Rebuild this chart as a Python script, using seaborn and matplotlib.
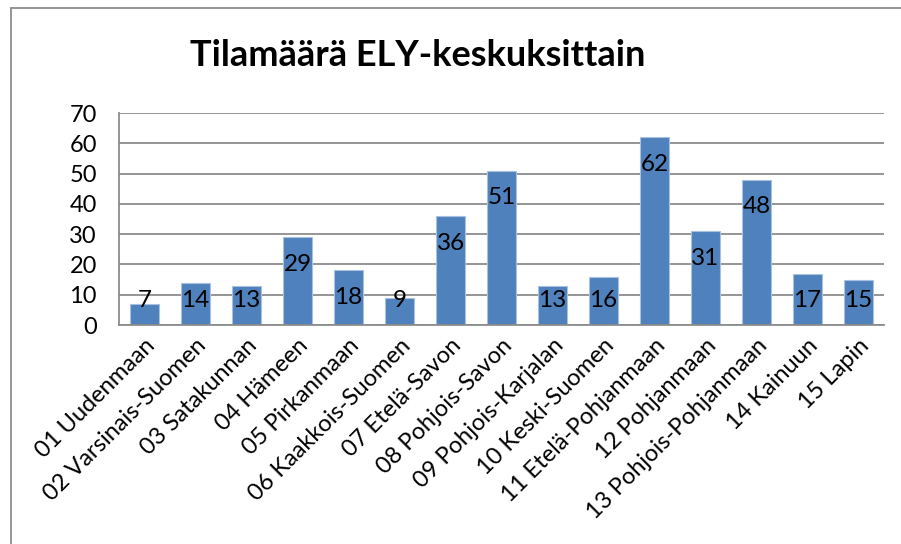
import numpy as np
import pandas as pd
import matplotlib.pyplot as plt
import seaborn as sns
from matplotlib.lines import Line2D

# Datos del gráfico
alueet = ['01 Uudenmaan', '02 Varsinais-Suomen', '03 Satakunnan', '04 Hämeen',
          '05 Pirkanmaan', '06 Kaakkois-Suomen', '07 Etelä-Savon', '08 Pohjois-Savon',
          '09 Pohjois-Karjalan', '10 Keski-Suomen', '11 Etelä-Pohjanmaan',
          '12 Pohjanmaan', '13 Pohjois-Pohjanmaan', '14 Kainuun', '15 Lapin']
tilamaara = [7, 14, 13, 29, 18, 9, 36, 51, 13, 16, 62, 31, 48, 17, 15]
y_ticks = [0, 10, 20, 30, 40, 50, 60, 70]

df = pd.DataFrame({'alue': alueet, 'tilat': tilamaara})

sns.set_theme(style="white")
plt.rcParams['font.family'] = ['Lato', 'DejaVu Sans']

W, H = 901, 544
fig = plt.figure(figsize=(W / 100, H / 100), dpi=100)
ax = fig.add_axes([119 / W, 1 - 325 / H, (884 - 119) / W, (325 - 113) / H])

sns.barplot(data=df, x='alue', y='tilat', color='#4F81BD', saturation=1,
            width=0.57, edgecolor='#a9c1e0', linewidth=0.8, ax=ax)

ax.set_ylim(0, 70)
ax.set_xlim(-0.5, len(alueet) - 0.5)
ax.set_yticks(y_ticks)
ax.yaxis.grid(True, color='#8c8c8c', linewidth=1.3)
ax.set_axisbelow(True)
for s in ['top', 'right']:
    ax.spines[s].set_visible(False)
for s in ['left', 'bottom']:
    ax.spines[s].set_color('#8c8c8c')
    ax.spines[s].set_linewidth(1.3)

ax.set_xlabel('')
ax.set_ylabel('')
ax.tick_params(axis='y', length=0, pad=16, labelsize=17, labelcolor='black')
ax.tick_params(axis='x', length=0, pad=7, labelsize=17, labelcolor='black')
plt.setp(ax.get_xticklabels(), rotation=45, ha='right', rotation_mode='anchor')

# Etiquetas de datos dentro de las barras
for i, v in enumerate(tilamaara):
    ax.text(i, max(v - 9, 8.2), str(v), ha='center', va='center',
            fontsize=17.5, color='black')

fig.text(418 / W, 1 - 56 / H, 'Tilamäärä ELY-keskuksittain', ha='center',
         va='center', fontsize=26, fontweight='bold', color='black')

# Borde del área del gráfico
fig.add_artist(Line2D([10.5 / W, 1], [1 - 7.5 / H, 1 - 7.5 / H], color='#8c8c8c', lw=1.3))
fig.add_artist(Line2D([10.5 / W, 10.5 / W], [0, 1 - 7.5 / H], color='#8c8c8c', lw=1.3))

fig.savefig('out.png', dpi=100)
